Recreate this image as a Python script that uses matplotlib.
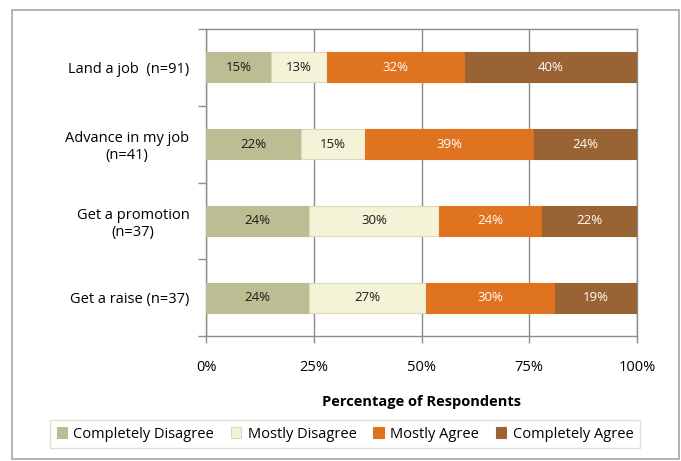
import matplotlib
matplotlib.use("Agg")
import matplotlib.pyplot as plt
from matplotlib.patches import Rectangle
import numpy as np

plt.rcParams['font.family'] = ['Open Sans', 'DejaVu Sans']

# Datos
categorias = ["Land a job  (n=91)", "Advance in my job\n(n=41)",
              "Get a promotion\n(n=37)", "Get a raise (n=37)"]
series = ["Completely Disagree", "Mostly Disagree", "Mostly Agree", "Completely Agree"]
completely_disagree = [15, 22, 24, 24]
mostly_disagree = [13, 15, 30, 27]
mostly_agree = [32, 39, 24, 30]
completely_agree = [40, 24, 22, 19]
xticks = [0, 25, 50, 75, 100]

valores = [completely_disagree, mostly_disagree, mostly_agree, completely_agree]
colores = ['#BBBE93', '#F4F3D7', '#E0731F', '#9A6334']
bordes = ['#BBBE93', '#DCD9B8', '#E0731F', '#9A6334']
color_texto = ['#1A1A1A', '#1A1A1A', 'white', 'white']
gris = '#8C8C8C'

fig = plt.figure(figsize=(6.81, 4.61), dpi=100)
ax = fig.add_axes([0.3025, 0.2711, 0.6329, 0.666])

# Marco de la figura
fig.patches.append(Rectangle((12 / 681, 2 / 461), 667 / 681, 449 / 461,
                             transform=fig.transFigure, fill=False,
                             edgecolor='#A6A6A6', linewidth=1.2))

y = np.arange(len(categorias))
izq = np.zeros(len(categorias))
for vals, nombre, c, b, ct in zip(valores, series, colores, bordes, color_texto):
    vals = np.array(vals, dtype=float)
    barras = ax.barh(y, vals, left=izq, height=0.39, color=c, edgecolor=b,
                     linewidth=0.8, label=nombre, zorder=3)
    for v, l, yy in zip(vals, izq, y):
        ax.text(l + v / 2, yy, f"{int(v)}%", ha='center', va='center',
                fontsize=9.5, color=ct, zorder=4)
    izq += vals

ax.set_xlim(0, 100)
ax.set_ylim(len(categorias) - 0.5, -0.5)
ax.set_xticks(xticks)
ax.set_xticklabels([f"{t}%" for t in xticks], fontsize=10.5)
ax.set_yticks(y)
ax.set_yticklabels(categorias, fontsize=10.5, multialignment='center')
ax.set_yticks(np.arange(len(categorias) + 1) - 0.5, minor=True)
ax.tick_params(axis='y', which='major', length=0, pad=12)
ax.tick_params(axis='y', which='minor', length=6, color=gris, width=1)
ax.tick_params(axis='x', length=5, color=gris, width=1, pad=12)
ax.grid(axis='x', color=gris, linewidth=1, zorder=0)
for s in ax.spines.values():
    s.set_color(gris)
    s.set_linewidth(1)

ax.set_xlabel("Percentage of Respondents", fontsize=10.5, fontweight='bold', labelpad=15)

leg = fig.legend(loc='center', bbox_to_anchor=(345 / 681, 1 - 434 / 461), ncol=4,
                 fontsize=10.5, handlelength=0.7, handleheight=0.7, handletextpad=0.45,
                 columnspacing=1.15, fancybox=False, borderpad=0.45, borderaxespad=0)
leg.get_frame().set_edgecolor('#DDD9C3')
leg.get_frame().set_linewidth(1)

fig.savefig("out.png", dpi=100)
